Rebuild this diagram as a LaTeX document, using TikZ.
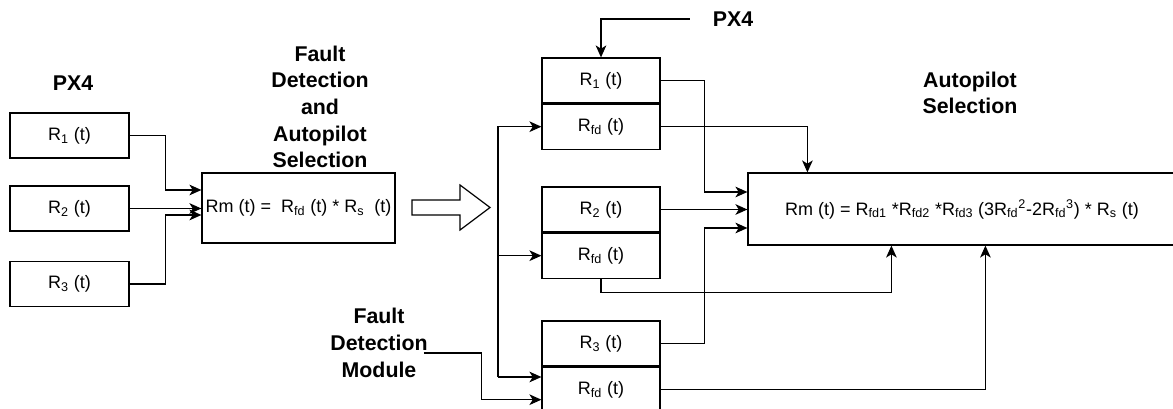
\documentclass[tikz,border=0pt]{standalone}
\usepackage{fontspec}
\setmainfont{Liberation Sans}
\usetikzlibrary{arrows.meta,calc,positioning}

\begin{document}
\begin{tikzpicture}[x=0.75pt,y=-0.75pt,
	rbox/.style={draw, line width=0.9pt, inner sep=0pt, minimum width=89.25pt, minimum height=33.75pt, font=\fontsize{13.5}{16}\selectfont},
	sbox/.style={rbox, minimum width=88.5pt},
	lbl/.style={inner sep=0pt, align=center, font=\bfseries\fontsize{16}{20}\selectfont},
	arr/.style={-{Stealth[length=9pt,width=8pt,inset=2.5pt]}, line width=0.9pt}]
			\useasboundingbox (0,0) rectangle (1173,409);% page size
			
			%	Left side: PX4 outputs
			\node[lbl] (px4a) at (73,83) {PX4};
			\node[rbox] (r1) at (69.5,135.5) {R\textsubscript{1} (t)};
			\node[rbox] (r2) at (69.5,208.5) {R\textsubscript{2} (t)};
			\node[rbox] (r3) at (69.5,284) {R\textsubscript{3} (t)};
			
			%	Fault detection and selection box
			\node[lbl] (fdlab) at (320,107) {Fault\\Detection\\and\\Autopilot\\Selection};
			\node[rbox, minimum width=144.75pt, minimum height=52.5pt] (fdas) at (298.5,208) {Rm (t) =\ \ R\textsubscript{fd} (t) * R\textsubscript{s}\ \ (t)};
			
			\draw[arr] (r1.east) -- ++(36,0) |- ($(fdas.west)+(0,-18)$);
			\draw[arr] (r2.east) -- (r2.east -| fdas.west);
			\draw[arr] (r3.east) -- ++(36,0) |- ($(fdas.west)+(0,7)$);
			
			%	Hollow arrow
			\draw[line width=0.9pt] (412,200) -- (460,200) -- (460,185) -- (490,207.5) -- (460,230) -- (460,215) -- (412,215) -- cycle;
			
			%	Right side: split boxes
			\node[sbox] (a1) at (601,80.5) {R\textsubscript{1} (t)};
			\node[sbox, below=0pt of a1] (f1) {R\textsubscript{fd} (t)};
			\node[sbox] (a2) at (601,209.5) {R\textsubscript{2} (t)};
			\node[sbox, below=0pt of a2] (f2) {R\textsubscript{fd} (t)};
			\node[sbox] (a3) at (601,343.5) {R\textsubscript{3} (t)};
			\node[sbox, below=0pt of a3] (f3) {R\textsubscript{fd} (t)};
			
			%	Selection box
			\node[lbl] (aplab) at (970,93) {Autopilot\\Selection};
			\node[rbox, minimum width=321pt, minimum height=54pt] (sel) at (962,209) {Rm (t) = R\textsubscript{fd1} *R\textsubscript{fd2} *R\textsubscript{fd3} (3R\textsubscript{fd}\textsuperscript{2}-2R\textsubscript{fd}\textsuperscript{3}) * R\textsubscript{s} (t)};
			
			%	PX4 input
			\node[lbl] (px4b) at (733,19) {PX4};
			\draw[arr] ($(px4b.west)+(-23,0)$) -| (a1.north);
			
			%	Fault detection module input
			\node[lbl] (fdm) at (379,343) {Fault\\Detection\\Module};
			\coordinate (bus) at (498,377);
			\draw[arr] (bus) |- (f1.west);
			\draw[arr] (bus |- f2.west) -- (f2.west);
			\draw[arr] (bus) -- (bus -| f3.west);
			\draw[arr] ($(fdm.east)+(-4,10)$) -- ++(58,0) |- ($(f3.west)+(0,10)$);
			
			%	Into selection box
			\draw[arr] (a1.east) -- ++(44,0) |- ($(sel.west)+(0,-17)$);
			\draw[arr] (f1.east) -| ($(sel.north west)+(60,0)$);
			\draw[arr] (a2.east) -- (a2.east -| sel.west);
			\draw[arr] (a3.east) -- ++(44,0) |- ($(sel.west)+(0,19)$);
			\draw[arr] (f2.south) -- ++(0,14) -| ($(sel.south west)+(144,0)$);
			\draw[arr] (f3.east) -| ($(sel.south west)+(238,0)$);
\end{tikzpicture}
\end{document}
